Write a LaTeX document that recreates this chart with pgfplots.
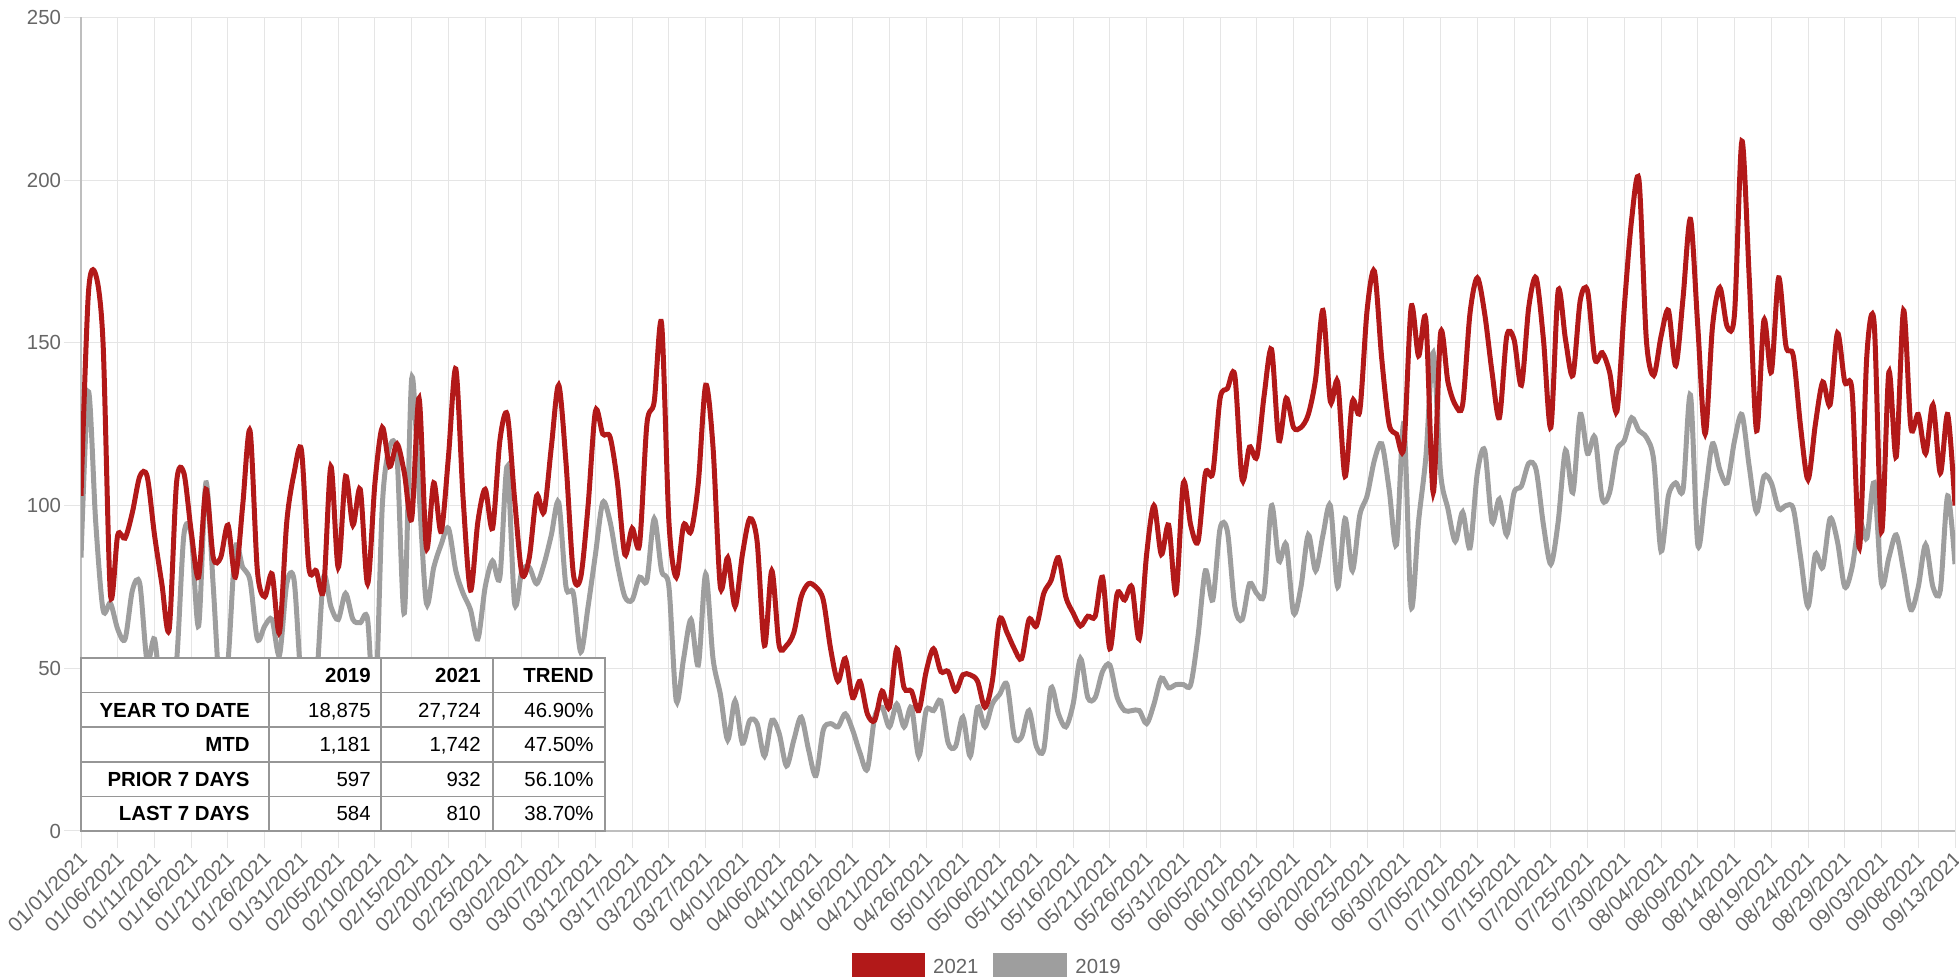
\documentclass[border=0pt]{standalone}
\usepackage{pgfplots}
\pgfplotsset{compat=1.18}
\usepackage{pgfplotstable}
\usepackage{fontspec}
\setmainfont{Liberation Sans}
\definecolor{red21}{RGB}{178,25,25}
\definecolor{gray19}{RGB}{158,158,158}
\definecolor{gridc}{RGB}{229,229,229}
\definecolor{axisc}{RGB}{190,190,190}
\definecolor{tickc}{RGB}{102,102,102}
\definecolor{tabline}{RGB}{150,150,150}
\newcommand\tf{\fontsize{10.2bp}{12bp}\selectfont}
\pgfplotstableread{
d r g
0 103 84
1 165 135
2 171 95
3 150 68
4 73 70
5 91 62
6 90 59
7 98 74
8 109 76
9 109 52
10 91 59
11 76 40
12 62 45
13 107 52
14 110 91
15 92 91
16 78 63
17 105 107
18 84 75
19 84 40
20 94 52
21 78 87
22 100 81
23 123 77
24 80 59
25 72 63
26 79 65
27 61 54
28 95 76
29 110 77
30 117 45
31 81 40
32 80 45
33 74 78
34 112 69
35 81 65
36 109 73
37 94 65
38 105 64
39 76 65
40 107 35
41 124 100
42 112 118
43 119 115
44 110 67
45 96 139
46 133 104
47 87 70
48 107 81
49 92 88
50 115 93
51 142 80
52 102 73
53 74 68
54 95 59
55 105 75
56 93 83
57 120 78
58 128 112
59 102 70
60 79 80
61 84 81
62 103 76
63 98 82
64 118 91
65 137 101
66 113 75
67 79 73
68 78 55
69 100 69
70 129 85
71 122 101
72 121 95
73 107 82
74 85 72
75 93 71
76 88 78
77 125 77
78 132 96
79 156 80
80 95 75
81 78 40
82 94 53
83 92 65
84 107 51
85 137 79
86 118 53
87 75 42
88 84 28
89 69 40
90 85 27
91 96 34
92 89 33
93 57 23
94 80 34
95 57 30
96 57 20
97 61 28
98 72 35
99 76 25
100 75 17
101 71 31
102 56 33
103 46 32
104 53 36
105 41 31
106 46 24
107 36 19
108 34 35
109 43 38
110 38 32
111 56 39
112 44 32
113 43 38
114 37 23
115 49 37
116 56 37
117 49 40
118 49 27
119 43 26
120 48 35
121 48 23
122 46 38
123 38 32
124 46 39
125 65 42
126 61 45
127 56 29
128 53 29
129 65 37
130 63 26
131 73 25
132 77 44
133 84 36
134 72 32
135 67 39
136 63 53
137 66 41
138 66 41
139 78 49
140 56 51
141 73 41
142 71 37
143 75 37
144 59 37
145 85 33
146 100 39
147 85 47
148 94 44
149 73 45
150 107 45
151 94 45
152 89 60
153 110 80
154 110 71
155 133 93
156 136 92
157 140 69
158 108 65
159 118 76
160 115 73
161 134 73
162 148 100
163 120 83
164 133 88
165 124 67
166 124 75
167 128 91
168 139 80
169 160 91
170 132 100
171 138 75
172 109 96
173 132 80
174 129 97
175 160 103
176 172 114
177 145 119
178 125 105
179 122 88
180 118 125
181 161 69
182 146 95
183 157 115
184 104 147
185 153 110
186 138 99
187 131 89
188 131 98
189 159 87
190 170 110
191 159 117
192 141 95
193 127 102
194 152 91
195 151 104
196 137 106
197 161 113
198 170 111
199 151 94
200 124 82
201 166 95
202 151 117
203 140 104
204 163 128
205 166 116
206 145 121
207 147 102
208 141 104
209 129 117
210 161 120
211 188 127
212 200 123
213 151 121
214 140 114
215 152 86
216 160 103
217 143 107
218 164 105
219 188 134
220 155 88
221 122 103
222 155 119
223 167 111
224 155 107
225 159 120
226 212 128
227 170 112
228 123 98
229 157 109
230 141 107
231 170 99
232 149 100
233 146 99
234 124 84
235 108 69
236 125 85
237 138 81
238 131 96
239 153 89
240 138 75
241 135 81
242 87 95
243 146 90
244 156 107
245 92 76
246 141 84
247 115 91
248 160 80
249 124 68
250 128 75
251 116 88
252 131 75
253 110 74
254 128 103
255 100 82
}\data
\begin{document}
\begin{tikzpicture}
\useasboundingbox (0,0) rectangle (979.5bp,488.5bp);
\begin{axis}[
  scale only axis, width=937bp, height=406.75bp,
  at={(40.5bp,73bp)}, anchor=south west,
  xmin=0, xmax=255, ymin=0, ymax=250,
  xtick={0,5,...,255},
  xticklabels={01/01/2021,01/06/2021,01/11/2021,01/16/2021,01/21/2021,01/26/2021,01/31/2021,02/05/2021,02/10/2021,02/15/2021,02/20/2021,02/25/2021,03/02/2021,03/07/2021,03/12/2021,03/17/2021,03/22/2021,03/27/2021,04/01/2021,04/06/2021,04/11/2021,04/16/2021,04/21/2021,04/26/2021,05/01/2021,05/06/2021,05/11/2021,05/16/2021,05/21/2021,05/26/2021,05/31/2021,06/05/2021,06/10/2021,06/15/2021,06/20/2021,06/25/2021,06/30/2021,07/05/2021,07/10/2021,07/15/2021,07/20/2021,07/25/2021,07/30/2021,08/04/2021,08/09/2021,08/14/2021,08/19/2021,08/24/2021,08/29/2021,09/03/2021,09/08/2021,09/13/2021},
  ytick={0,50,...,250},
  axis x line*=bottom, axis y line*=left,
  axis line style={draw=axisc, line width=0.6bp},
  grid=major, major grid style={draw=gridc, line width=0.5bp},
  tick align=outside, major tick length=8.5bp,
  tick style={draw=gridc, line width=0.5bp},
  tick label style={font=\tf, text=tickc},
  /pgf/number format/assume math mode=true,
  xticklabel style={xshift=2bp, yshift=-3bp, rotate=45, anchor=east, inner sep=1bp},
  yticklabel style={anchor=east, xshift=2bp},
  every axis plot/.append style={line width=2.5bp, smooth, tension=0.5, mark=none},
]
\addplot[gray19] table[x=d,y=g]{\data};
\addplot[red21] table[x=d,y=r]{\data};
\end{axis}
% summary table
\fill[white] (40.5bp,73bp) rectangle (302.5bp,159.5bp);
\draw[tabline, line width=0.75bp] (40.5bp,73bp) rectangle (302.5bp,159.5bp);
\foreach \yy in {142.2,124.9,107.6,90.3} \draw[tabline, line width=0.75bp] (40.5bp,\yy bp) -- (302.5bp,\yy bp);
\foreach \xx in {134.5,190.5,246.5} \draw[tabline, line width=0.75bp] (\xx bp,73bp) -- (\xx bp,159.5bp);
\begin{scope}[every node/.style={inner sep=0pt, anchor=base east, font=\tf}]
\node[font=\tf\bfseries] at (185.5bp,147.2bp) {2019};
\node[font=\tf\bfseries] at (240.5bp,147.2bp) {2021};
\node[font=\tf\bfseries] at (297bp,147.2bp) {TREND};
\node[font=\tf\bfseries] at (125bp,129.9bp) {YEAR TO DATE};
\node at (185.5bp,129.9bp) {18,875};
\node at (240.5bp,129.9bp) {27,724};
\node at (297bp,129.9bp) {46.90\%};
\node[font=\tf\bfseries] at (125bp,112.6bp) {MTD};
\node at (185.5bp,112.6bp) {1,181};
\node at (240.5bp,112.6bp) {1,742};
\node at (297bp,112.6bp) {47.50\%};
\node[font=\tf\bfseries] at (125bp,95.3bp) {PRIOR 7 DAYS};
\node at (185.5bp,95.3bp) {597};
\node at (240.5bp,95.3bp) {932};
\node at (297bp,95.3bp) {56.10\%};
\node[font=\tf\bfseries] at (125bp,78bp) {LAST 7 DAYS};
\node at (185.5bp,78bp) {584};
\node at (240.5bp,78bp) {810};
\node at (297bp,78bp) {38.70\%};
\end{scope}
% legend
\fill[red21] (425.9bp,0bp) rectangle (462.5bp,12bp);
\node[inner sep=0pt, anchor=base west, font=\tf, text=tickc] at (466.4bp,1.6bp) {2021};
\fill[gray19] (496.7bp,0bp) rectangle (533.4bp,12bp);
\node[inner sep=0pt, anchor=base west, font=\tf, text=tickc] at (537.5bp,1.6bp) {2019};
\end{tikzpicture}
\end{document}
